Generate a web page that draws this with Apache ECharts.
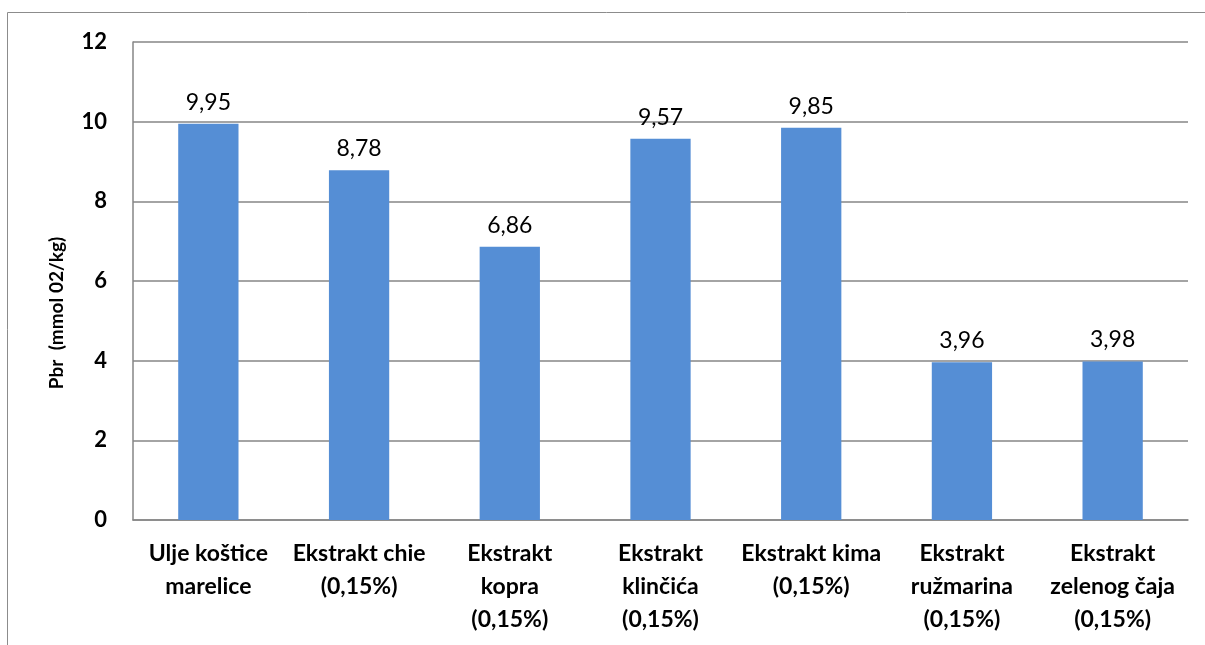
<!DOCTYPE html>
<html>
<head>
<meta charset="utf-8">
<script src="https://cdn.jsdelivr.net/npm/echarts@6/dist/echarts.min.js"></script>
<style>
html,body{margin:0;padding:0;background:#fff;}
#c{width:1205px;height:645px;}
</style>
</head>
<body>
<div id="c"></div>
<script>
const categories = [
  'Ulje koštice\nmarelice',
  'Ekstrakt chie\n(0,15%)',
  'Ekstrakt\nkopra\n(0,15%)',
  'Ekstrakt\nklinčića\n(0,15%)',
  'Ekstrakt kima\n(0,15%)',
  'Ekstrakt\nružmarina\n(0,15%)',
  'Ekstrakt\nzelenog čaja\n(0,15%)'
];
const values = [9.95, 8.78, 6.86, 9.57, 9.85, 3.96, 3.98];
const yAxisName = 'Pbr  (mmol 02/kg)';

const chart = echarts.init(document.getElementById('c'));
const font = 'Lato, "Open Sans", sans-serif';
chart.setOption({
  animation: false,
  grid: {left: 133, right: 17, top: 42, bottom: 125},
  graphic: [
    {type: 'rect', shape: {x: 7.5, y: 12.5, width: 1220, height: 660},
     style: {fill: 'none', stroke: '#8c8c8c', lineWidth: 1}, silent: true},
    {type: 'text', x: 57, y: 313, rotation: Math.PI / 2,
     style: {text: yAxisName, font: 'bold 19px ' + font, fill: '#000',
             align: 'center', verticalAlign: 'middle'}}
  ],
  xAxis: {
    type: 'category',
    data: categories,
    axisLine: {lineStyle: {color: '#868686', width: 1.5}},
    axisTick: {show: false},
    axisLabel: {color: '#000', fontFamily: font, fontWeight: 'bold', fontSize: 23,
                lineHeight: 33, margin: 17, interval: 0}
  },
  yAxis: {
    type: 'value', min: 0, max: 12, interval: 2,
    axisLine: {show: true, lineStyle: {color: '#868686', width: 1.5}},
    axisTick: {show: false},
    splitLine: {lineStyle: {color: '#868686', width: 1.5}},
    axisLabel: {color: '#000', fontFamily: font, fontWeight: 'bold', fontSize: 22, margin: 26}
  },
  series: [{
    type: 'bar',
    data: values,
    barWidth: '40%',
    itemStyle: {color: '#558ED5'},
    label: {show: true, position: 'top', distance: 10, color: '#000',
            fontFamily: font, fontSize: 23,
            formatter: p => p.value.toFixed(2).replace('.', ',')}
  }]
});
</script>
</body>
</html>
